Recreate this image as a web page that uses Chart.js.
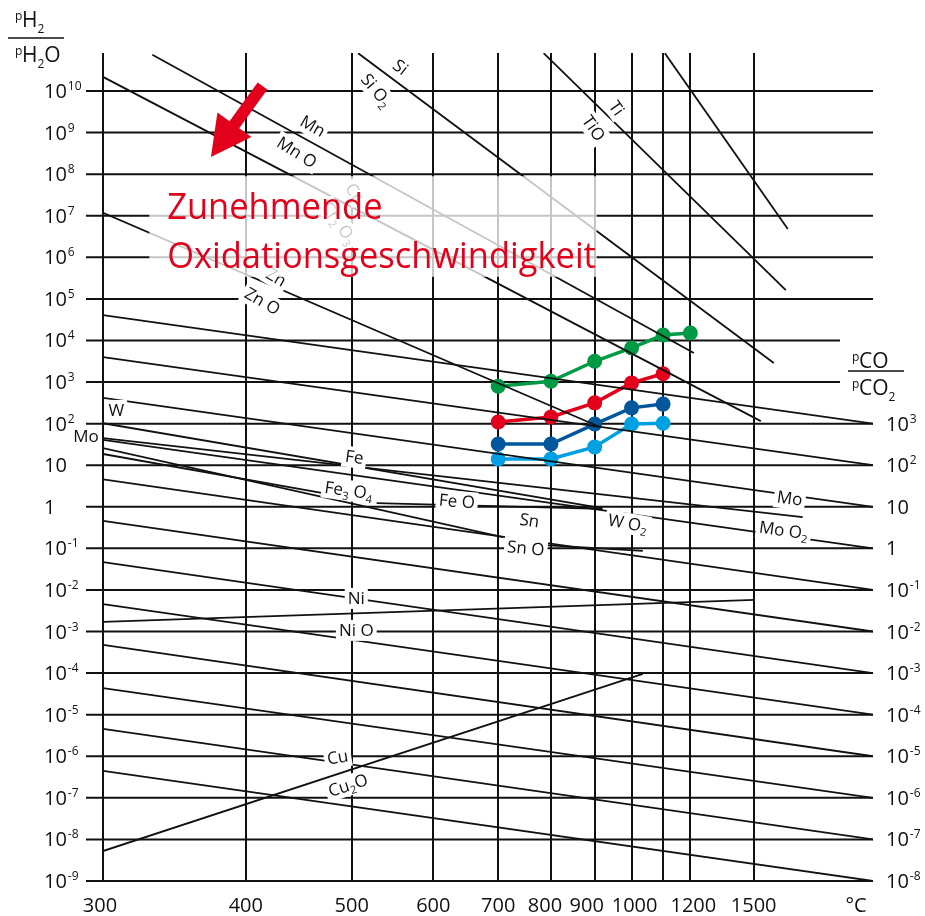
<!DOCTYPE html>
<html>
<head>
<meta charset="utf-8">
<script src="https://cdn.jsdelivr.net/npm/chart.js@4.4.1/dist/chart.umd.min.js"></script>
<style>
  html, body { margin: 0; padding: 0; background: #fff; }
</style>
</head>
<body>
<canvas id="myChart" width="925" height="916"></canvas>
<script>
"use strict";

// bottom axis, °C (plotted on a 1/T scale)
const tempTicks = [300, 400, 500, 600, 700, 800, 900, 1000, 1100, 1200, 1500];
const tempLabels = ["300", "400", "500", "600", "700", "800", "900", "1000", "", "1200", "1500"];
const tempLabelShift = [-3, 0, 0, 0, 0, -6, -8, 3, 0, 3, 0];
const tempRightEdge = 2606; // °C at the right border of the grid

// left axis pH2/pH2O, decades (log10)
const leftDecades = [-9, -8, -7, -6, -5, -4, -3, -2, -1, 0, 1, 2, 3, 4, 5, 6, 7, 8, 9, 10];
// right axis pCO/pCO2, decades (log10), one decade above the left one
const rightDecades = [-8, -7, -6, -5, -4, -3, -2, -1, 0, 1, 2, 3];
const shortGridDecades = [3, 4];
const shortGridEndTemp = 2183;

// metal / oxide equilibrium lines: [°C, log10 pH2/pH2O]
const oxideNames = ["Si/SiO2", "Ti/TiO", "unlabelled", "Mn/MnO", "Cr/Cr2O3", "Zn/ZnO", "W/WO2",
  "Mo/MoO2", "Fe/Fe3O4", "Fe3O4/FeO", "Sn/SnO", "SnO", "Ni/NiO", "Cu/Cu2O"];
const oxideStart = [[507, 10.91], [785, 10.91], [1106, 10.91], [331, 10.87], [300, 10.34],
  [300, 7.07], [300, 2.01], [300, 1.65], [300, 1.27], [528, 0.09], [300, 1.41], [787, -0.92],
  [300, -2.77], [300, -8.28]];
const oxideEnd = [[1623, 3.46], [1705, 5.21], [1719, 6.68], [1214, 3.70], [1542, 2.06],
  [913, 1.92], [918, -0.03], [1833, -0.25], [470, 0.33], [920, -0.05], [708, -0.73], [1034, -1.06],
  [1507, -2.24], [1034, -4.02]];

// pCO/pCO2 conversion lines: left value at 300 °C, right axis decade at the border
const coStartLeft = [4.61, 3.60, 2.62, 1.61, 0.66, -0.34, -1.33, -2.34, -3.32, -4.36, -5.34, -6.35];
const coEndRight = [3, 2, 1, 0, -1, -2, -3, -4, -5, -6, -7, -8];

// measured series
const seriesTemps = [700, 800, 900, 1000, 1100, 1200];
const greenValues = [2.90, 3.02, 3.50, 3.82, 4.13, 4.18];
const redValues = [2.04, 2.16, 2.50, 2.98, 3.20];
const darkBlueValues = [1.51, 1.51, 1.99, 2.38, 2.47];
const lightBlueValues = [1.15, 1.15, 1.44, 1.99, 2.01];

// line labels ("_" marks a subscript digit)
const labelTexts = ["Si", "Si O_2", "Ti", "TiO", "Mn", "Mn O", "Cr", "Cr_2 O_3", "Zn", "Zn O", "W", "Mo",
  "Fe", "Fe_3 O_4", "Fe O", "Sn", "Sn O", "W O_2", "Mo", "Mo O_2", "Ni", "Ni O", "Cu", "Cu_2O"];
const labelTemps = [557, 528, 958, 898, 460, 445, 503, 487, 426, 414, 308, 290,
  503, 497, 634, 757, 750, 989, 1733, 1690, 505, 505, 485, 496];
const labelValues = [10.58, 10.02, 9.59, 9.11, 9.16, 8.53, 7.57, 6.83, 5.53, 4.95, 2.33, 1.70,
  1.20, 0.40, 0.14, -0.32, -0.99, -0.39, 0.21, -0.56, -2.19, -2.96, -6.02, -6.69];
const labelAngles = [38, 50, 55, 55, 30, 32, 55, 55, 30, 30, 0, 0,
  8, 8, 5, 8, 5, 10, 8, 8, 0, 0, -10, -18];

const noteLines = ["Zunehmende", "Oxidationsgeschwindigkeit"];

const FONT = '"Open Sans", "DejaVu Sans", sans-serif';
const INK = "#111";
const RED = "#e2001a";

const toX = (t) => 1000 / (t + 273.15);

function lineSet(a, b, width) {
  return {
    data: [{ x: toX(a[0]), y: a[1] }, { x: toX(b[0]), y: b[1] }],
    showLine: true,
    borderColor: INK,
    borderWidth: width,
    pointRadius: 0,
    pointHoverRadius: 0,
  };
}

function seriesSet(values, color) {
  return {
    data: values.map((v, i) => ({ x: toX(seriesTemps[i]), y: v })),
    showLine: true,
    borderColor: color,
    backgroundColor: color,
    borderWidth: 3.5,
    pointRadius: 7.5,
    pointBorderWidth: 0,
    pointBackgroundColor: color,
  };
}

function splitParts(str) {
  const parts = [];
  let i = 0;
  while (i < str.length) {
    if (str[i] === "_") {
      parts.push({ t: str[i + 1], sub: true });
      i += 2;
    } else {
      let j = i;
      while (j < str.length && str[j] !== "_") j++;
      parts.push({ t: str.slice(i, j), sub: false });
      i = j;
    }
  }
  return parts;
}

function paintLabel(ctx, text, px, py, angle) {
  const parts = splitParts(text);
  ctx.save();
  ctx.translate(px, py);
  ctx.rotate((angle * Math.PI) / 180);
  ctx.textBaseline = "alphabetic";
  ctx.textAlign = "left";
  let w = 0;
  for (const p of parts) {
    ctx.font = (p.sub ? "11px " : "17px ") + FONT;
    p.w = ctx.measureText(p.t).width;
    w += p.w;
  }
  ctx.fillStyle = "#fff";
  ctx.fillRect(-w / 2 - 3, -10, w + 6, 21);
  ctx.fillStyle = INK;
  let cx = -w / 2;
  for (const p of parts) {
    ctx.font = (p.sub ? "11px " : "17px ") + FONT;
    ctx.fillText(p.t, cx, p.sub ? 10 : 6);
    cx += p.w;
  }
  ctx.restore();
}

function paintPower(ctx, n, x, y) {
  ctx.textAlign = "left";
  ctx.textBaseline = "alphabetic";
  ctx.fillStyle = INK;
  ctx.font = "20px " + FONT;
  if (n === 0) {
    ctx.fillText("1", x, y + 7);
    return;
  }
  ctx.fillText("10", x, y + 7);
  if (n !== 1) {
    const w = ctx.measureText("10").width;
    ctx.font = "12px " + FONT;
    ctx.fillText(String(n), x + w + 1, y - 1);
  }
}

function paintRatio(ctx, x, y, gas, sub) {
  ctx.textAlign = "left";
  ctx.textBaseline = "alphabetic";
  ctx.fillStyle = INK;
  ctx.font = "12px " + FONT;
  ctx.fillText("p", x, y - 7);
  ctx.font = "21px " + FONT;
  const mainX = x + 7;
  ctx.fillText(gas[0], mainX, y);
  let cx = mainX + ctx.measureText(gas[0]).width;
  if (sub) {
    ctx.font = "12px " + FONT;
    ctx.fillText(sub, cx, y + 6);
    cx += ctx.measureText(sub).width;
  }
  if (gas[1]) {
    ctx.font = "21px " + FONT;
    ctx.fillText(gas[1], cx, y);
  }
}

const decor = {
  id: "decor",
  beforeDatasetsDraw(chart) {
    const { ctx, chartArea } = chart;
    const xs = chart.scales.x;
    const ys = chart.scales.y;
    ctx.save();
    ctx.strokeStyle = INK;
    ctx.lineWidth = 2;
    for (const n of leftDecades) {
      const y = ys.getPixelForValue(n);
      const x1 = shortGridDecades.includes(n)
        ? xs.getPixelForValue(toX(shortGridEndTemp))
        : chartArea.right;
      ctx.beginPath();
      ctx.moveTo(chartArea.left - 17, y);
      ctx.lineTo(x1, y);
      ctx.stroke();
    }
    ctx.restore();
  },
  afterDatasetsDraw(chart) {
    const { ctx, chartArea } = chart;
    const xs = chart.scales.x;
    const ys = chart.scales.y;
    const y2 = chart.scales.y2;
    const px = (t) => xs.getPixelForValue(toX(t));

    ctx.save();
    // line labels
    labelTexts.forEach((txt, i) => {
      paintLabel(ctx, txt, px(labelTemps[i]), ys.getPixelForValue(labelValues[i]), labelAngles[i]);
    });

    // translucent note box
    const bx0 = px(329), bx1 = px(905);
    const by0 = ys.getPixelForValue(7.95), by1 = ys.getPixelForValue(5.53);
    ctx.fillStyle = "rgba(255,255,255,0.76)";
    ctx.fillRect(bx0, by0, bx1 - bx0, by1 - by0);

    // note text
    ctx.fillStyle = RED;
    ctx.textAlign = "left";
    ctx.textBaseline = "alphabetic";
    ctx.font = "36px " + FONT;
    const tx = px(341);
    const target = px(903) - tx;
    const sx = target / ctx.measureText(noteLines[1]).width;
    [6.92, 5.74].forEach((v, i) => {
      ctx.save();
      ctx.translate(tx, ys.getPixelForValue(v));
      ctx.scale(sx, 1);
      ctx.fillText(noteLines[i], 0, 0);
      ctx.restore();
    });

    // arrow
    const ax0 = px(414), ay0 = ys.getPixelForValue(10.12);
    const ax1 = px(372.5), ay1 = ys.getPixelForValue(8.41);
    const len = Math.hypot(ax1 - ax0, ay1 - ay0);
    const ux = (ax1 - ax0) / len, uy = (ay1 - ay0) / len;
    const nx = -uy, ny = ux;
    const bxh = ax1 - ux * 40, byh = ay1 - uy * 40;
    ctx.beginPath();
    ctx.moveTo(ax0 + nx * 6, ay0 + ny * 6);
    ctx.lineTo(bxh + ux * 2 + nx * 6, byh + uy * 2 + ny * 6);
    ctx.lineTo(bxh + ux * 2 - nx * 6, byh + uy * 2 - ny * 6);
    ctx.lineTo(ax0 - nx * 6, ay0 - ny * 6);
    ctx.closePath();
    ctx.fill();
    ctx.beginPath();
    ctx.moveTo(ax1, ay1);
    ctx.lineTo(bxh + nx * 21, byh + ny * 21);
    ctx.lineTo(bxh - nx * 21, byh - ny * 21);
    ctx.closePath();
    ctx.fill();

    // tick labels
    for (const n of leftDecades) {
      paintPower(ctx, n, chartArea.left - 59, ys.getPixelForValue(n));
    }
    for (const n of rightDecades) {
      paintPower(ctx, n, chartArea.right + 13, y2.getPixelForValue(n));
    }
    ctx.fillStyle = INK;
    ctx.font = "20px " + FONT;
    ctx.textAlign = "center";
    tempTicks.forEach((t, i) => {
      if (tempLabels[i]) ctx.fillText(tempLabels[i], px(t) + tempLabelShift[i], chartArea.bottom + 31);
    });
    ctx.fillText("°C", chartArea.right - 17, chartArea.bottom + 31);

    // axis titles
    paintRatio(ctx, 15, 27, ["H", ""], "2");
    paintRatio(ctx, 15, 62, ["H", "O"], "2");
    paintRatio(ctx, 852, 368, ["CO", ""], "");
    paintRatio(ctx, 852, 395, ["CO", ""], "2");
    ctx.strokeStyle = INK;
    ctx.lineWidth = 1.5;
    ctx.beginPath();
    ctx.moveTo(8, 38); ctx.lineTo(64, 38);
    ctx.moveTo(848, 371); ctx.lineTo(904, 371);
    ctx.stroke();
    ctx.restore();
  },
};

const datasets = [];
oxideNames.forEach((name, i) => {
  const d = lineSet(oxideStart[i], oxideEnd[i], 1.8);
  d.label = name;
  datasets.push(d);
});
coStartLeft.forEach((v, i) => {
  // right axis sits one decade above the left one
  const d = lineSet([300, v], [tempRightEdge, coEndRight[i] - 1], 1.8);
  d.label = "CO " + coEndRight[i];
  datasets.push(d);
});
datasets.push(Object.assign(seriesSet(greenValues, "#009a44"), { label: "green" }));
datasets.push(Object.assign(seriesSet(redValues, "#e2001a"), { label: "red" }));
datasets.push(Object.assign(seriesSet(darkBlueValues, "#00579c"), { label: "dark blue" }));
datasets.push(Object.assign(seriesSet(lightBlueValues, "#00a0e3"), { label: "light blue" }));

new Chart(document.getElementById("myChart").getContext("2d"), {
  type: "scatter",
  data: { datasets },
  plugins: [decor],
  options: {
    responsive: false,
    animation: false,
    devicePixelRatio: 1,
    events: [],
    layout: { padding: { left: 103, right: 52, top: 53, bottom: 35 } },
    plugins: { legend: { display: false }, tooltip: { enabled: false } },
    scales: {
      x: {
        type: "linear",
        reverse: true,
        min: toX(tempRightEdge),
        max: toX(300),
        afterBuildTicks: (s) => {
          s.ticks = tempTicks.map((t) => ({ value: toX(t) }));
        },
        afterFit: (s) => { s.height = 0; },
        ticks: { display: false },
        grid: { color: INK, lineWidth: 2, drawTicks: false },
        border: { display: false },
      },
      y: {
        type: "linear",
        min: -9,
        max: 10.914,
        afterFit: (s) => { s.width = 0; },
        ticks: { display: false },
        grid: { display: false },
        border: { display: false },
      },
      y2: {
        type: "linear",
        position: "right",
        min: -8,
        max: 11.914,
        display: false,
      },
    },
  },
});
</script>
</body>
</html>
